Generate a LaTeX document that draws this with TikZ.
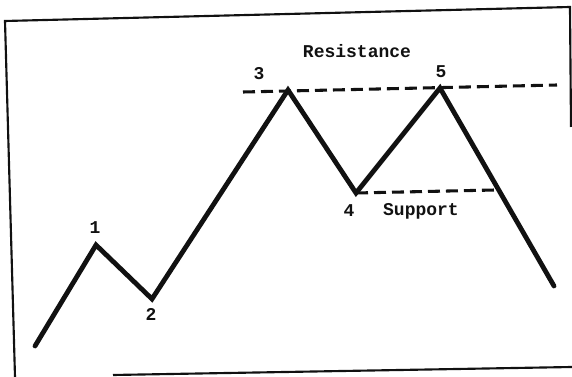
\documentclass[tikz,border=0pt]{standalone}
\usepackage{fontspec}
\setmonofont{Liberation Mono}
\usepackage{tikz}
\usetikzlibrary{positioning, calc}
\definecolor{inkblack}{HTML}{111111}
\tikzset{
  frameline/.style={draw=inkblack, line width=1.6pt},
  priceline/.style={draw=inkblack, line width=3.6pt, line join=miter, line cap=round},
  levelline/.style={draw=inkblack, line width=2.3pt, dash pattern=on 9pt off 4.5pt},
  chartlabel/.style={font=\fontsize{13.5}{15}\selectfont\ttfamily\bfseries, text=inkblack, inner sep=1pt}
}

\begin{document}
\begin{tikzpicture}[x=0.75pt, y=-0.75pt]
  \useasboundingbox (0,0) rectangle (572,377);

  % Rahmen (leicht schief eingescannt)
  \coordinate (ftl) at (5,21);
  \coordinate (ftr) at (570,7);
  \coordinate (frb) at (571,127);
  \coordinate (fbl) at (15,377);
  \coordinate (fbs) at (113,375);
  \coordinate (fbe) at (572,367);
  \draw[frameline] (fbl) -- (ftl) -- (ftr) -- (frb);
  \draw[frameline] (fbs) -- (fbe);

  % Wendepunkte
  \coordinate (p0) at (35,346);
  \coordinate (p1) at (96,245);
  \coordinate (p2) at (152,299);
  \coordinate (p3) at (288,90);
  \coordinate (p4) at (356,193);
  \coordinate (p5) at (440,88);
  \coordinate (p6) at (554,286);

  % Widerstand und Unterstuetzung
  \coordinate (resL) at (243,92);
  \coordinate (resR) at (557,85);
  \coordinate (supR) at (495,190);
  \draw[levelline] (resL) -- (resR);
  \draw[levelline] (p4) -- (supR);

  % Kursverlauf
  \draw[priceline] (p0) -- (p1) -- (p2) -- (p3) -- (p4) -- (p5) -- (p6);

  % Beschriftung
  \node[chartlabel] (lab1) at (95,228) {1};
  \node[chartlabel] (lab2) at (151,314) {2};
  \node[chartlabel] (lab3) at (259,74) {3};
  \node[chartlabel] (lab4) at (349,211) {4};
  \node[chartlabel] (lab5) at (441,72) {5};
  \node[chartlabel] (labres) at (357,51) {Resistance};
  \node[chartlabel] (labsup) at (421,211) {Support};
\end{tikzpicture}
\end{document}
